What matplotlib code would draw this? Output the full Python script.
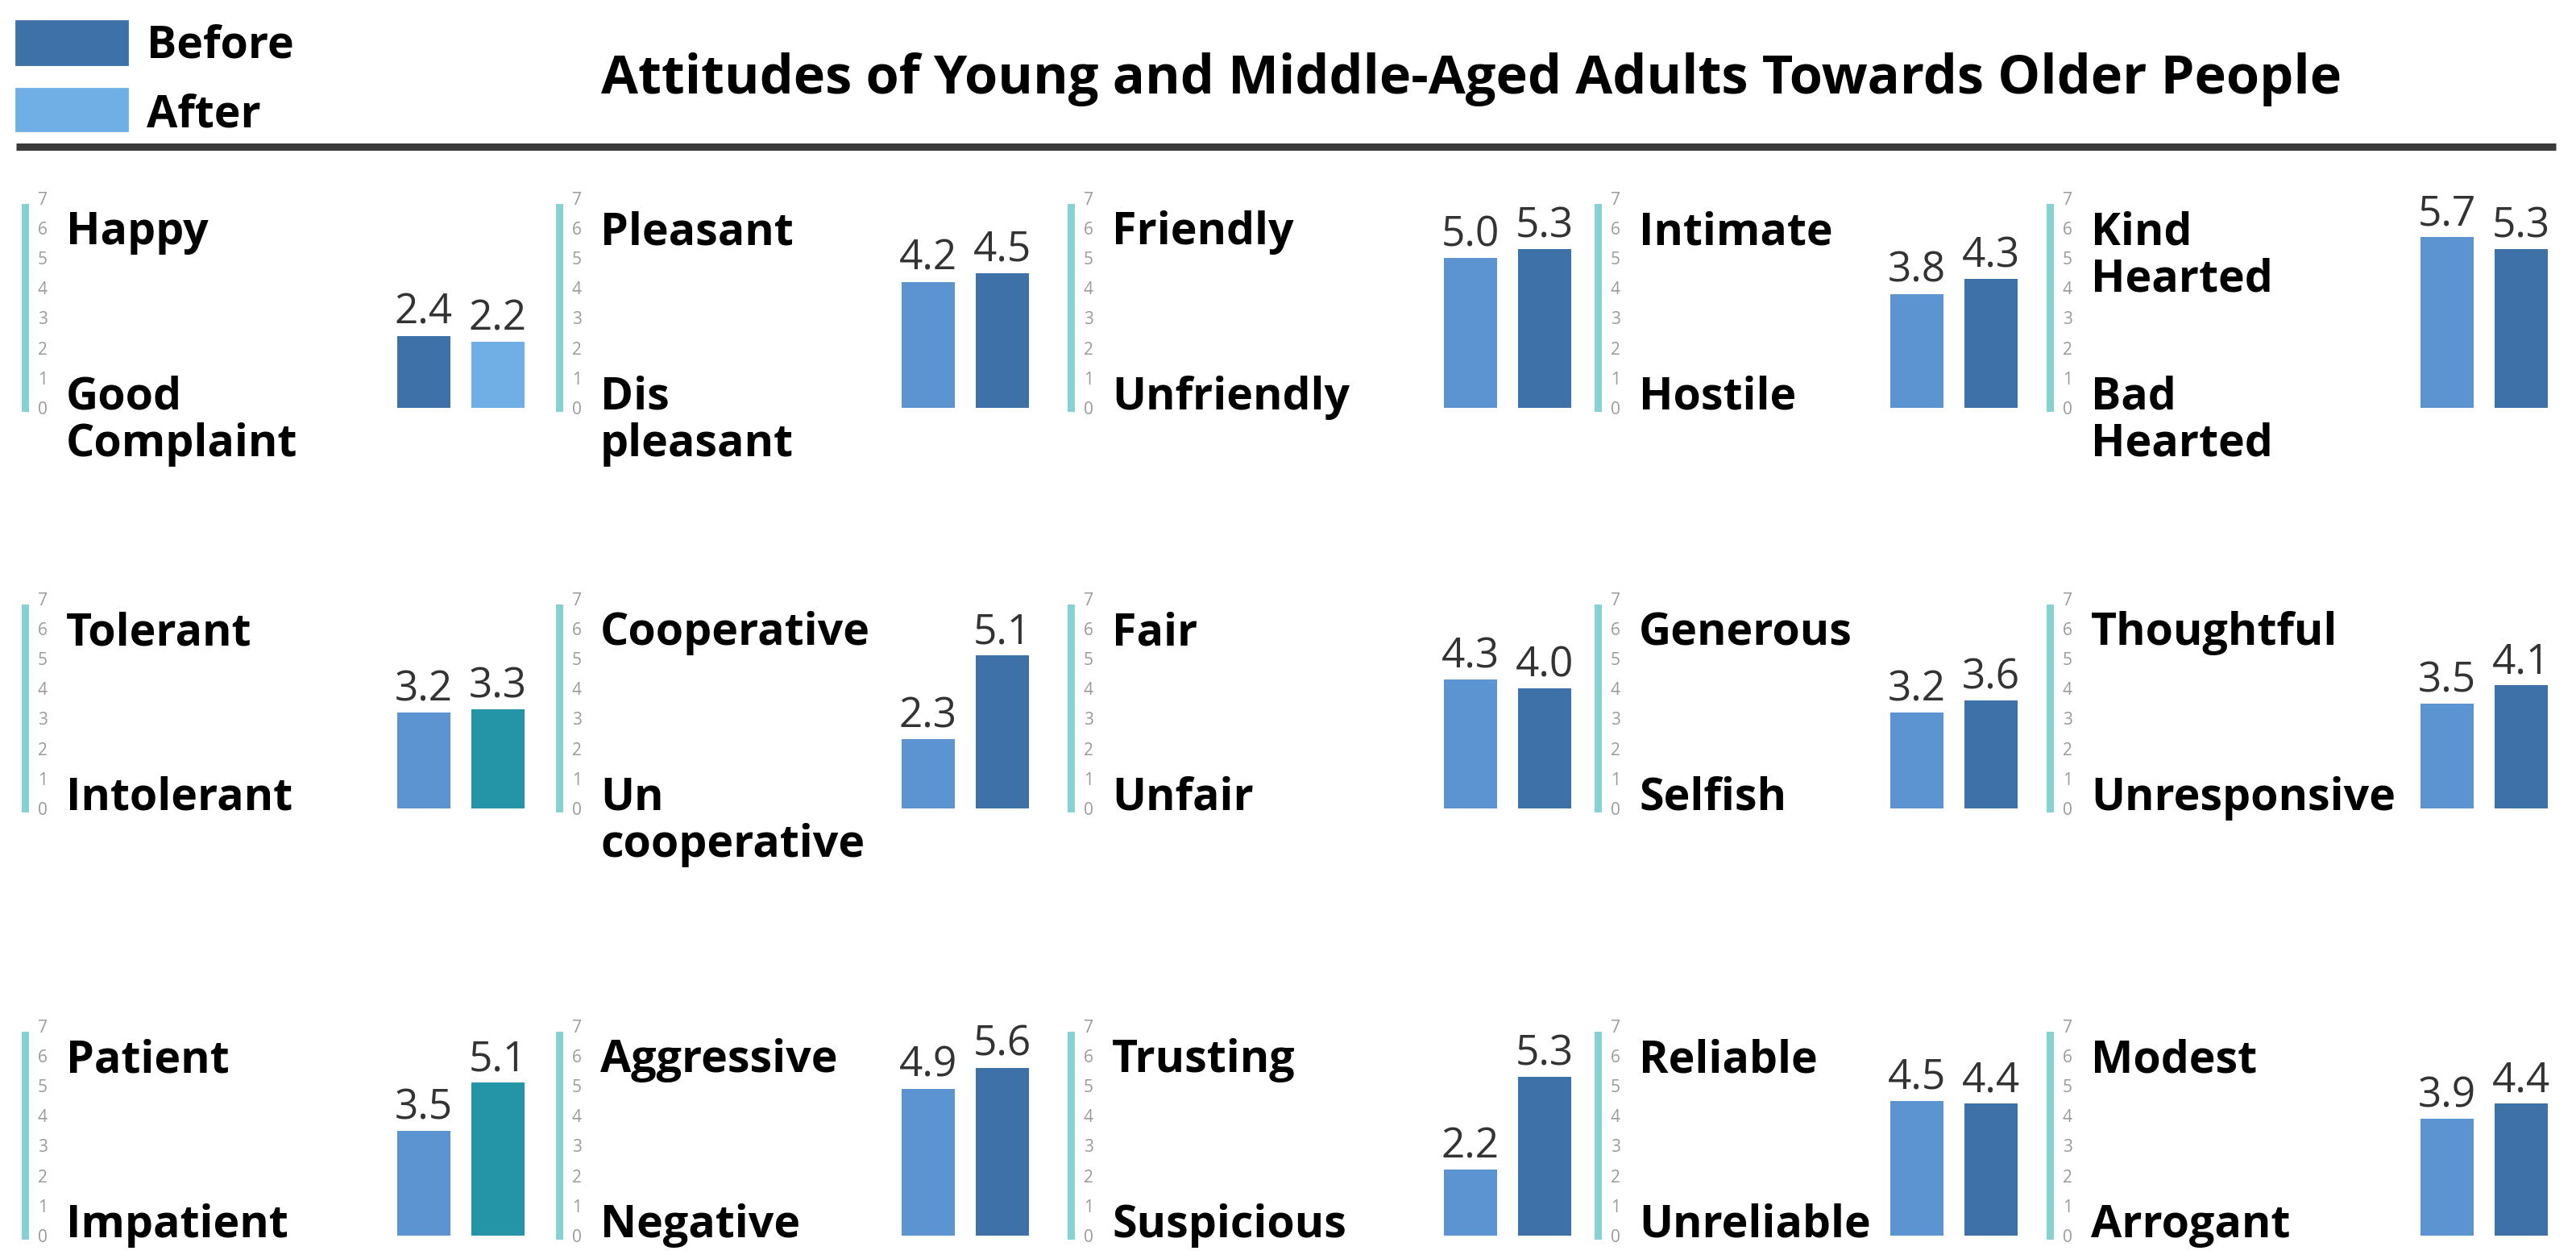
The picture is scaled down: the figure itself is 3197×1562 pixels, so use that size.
import numpy as np
import matplotlib
matplotlib.use('Agg')
import matplotlib.pyplot as plt
from matplotlib.patches import Rectangle

plt.rcParams['font.family'] = ['Open Sans', 'DejaVu Sans']

# ---------------- data ----------------
top_labels = [
    ['Happy', 'Pleasant', 'Friendly', 'Intimate', 'Kind\nHearted'],
    ['Tolerant', 'Cooperative', 'Fair', 'Generous', 'Thoughtful'],
    ['Patient', 'Aggressive', 'Trusting', 'Reliable', 'Modest'],
]
bottom_labels = [
    ['Good\nComplaint', 'Dis\npleasant', 'Unfriendly', 'Hostile', 'Bad\nHearted'],
    ['Intolerant', 'Un\ncooperative', 'Unfair', 'Selfish', 'Unresponsive'],
    ['Impatient', 'Negative', 'Suspicious', 'Unreliable', 'Arrogant'],
]
first_values = [
    [2.4, 4.2, 5.0, 3.8, 5.7],
    [3.2, 2.3, 4.3, 3.2, 3.5],
    [3.5, 4.9, 2.2, 4.5, 3.9],
]
second_values = [
    [2.2, 4.5, 5.3, 4.3, 5.3],
    [3.3, 5.1, 4.0, 3.6, 4.1],
    [5.1, 5.6, 5.3, 4.4, 4.4],
]
legend_labels = ['Before', 'After']
title = 'Attitudes of Young and Middle-Aged Adults Towards Older People'

# ---------------- style ----------------
DARK = '#3e71a7'
MEDIUM = '#5b94d1'
LIGHT = '#70afe6'
TEAL = '#2495a6'
AXIS_TEAL = '#86d2d2'
bar_colors = [
    [(DARK, LIGHT), (MEDIUM, DARK), (MEDIUM, DARK), (MEDIUM, DARK), (MEDIUM, DARK)],
    [(MEDIUM, TEAL), (MEDIUM, DARK), (MEDIUM, DARK), (MEDIUM, DARK), (MEDIUM, DARK)],
    [(MEDIUM, TEAL), (MEDIUM, DARK), (MEDIUM, DARK), (MEDIUM, DARK), (MEDIUM, DARK)],
]

W, H, DPI = 3197, 1562, 200
PT = DPI / 72.0                       # px per point

col_axis_px = [31, 694, 1329, 1983, 2544]   # teal axis line x
col_bar_px = [493, 1119, 1792, 2346, 3004]  # left edge of first bar
row_base_px = [506, 1003, 1533]             # bar baseline y
PX_PER_UNIT = 37.2
BAR_W, BAR_STEP = 66, 92
LABEL_FS = 20
VALUE_FS = 18.5

fig = plt.figure(figsize=(W / DPI, H / DPI), dpi=DPI)

# overlay in pixel coordinates for the header
ov = fig.add_axes([0, 0, 1, 1])
ov.set_xlim(0, W)
ov.set_ylim(H, 0)
ov.axis('off')

ov.add_patch(Rectangle((20, 26), 138, 54, color=DARK))
ov.add_patch(Rectangle((20, 110), 138, 52, color=LIGHT))
ov.text(182, 72, legend_labels[0], fontsize=LABEL_FS, fontweight='bold', va='baseline')
ov.text(182, 157, legend_labels[1], fontsize=LABEL_FS, fontweight='bold', va='baseline')
ov.text(1826, 116, title, fontsize=24, fontweight='bold', ha='center', va='baseline')
ov.plot([20, 3172], [182, 182], color='#3a3a3a', linewidth=9 / PT, solid_capstyle='butt')

for r in range(3):
    for c in range(5):
        L = col_axis_px[c]
        B = col_bar_px[c]
        right_px = B + BAR_STEP + BAR_W + 10
        width_px = right_px - L
        base = row_base_px[r]
        top = base - 7 * PX_PER_UNIT
        ax = fig.add_axes([L / W, 1 - base / H, width_px / W, (base - top) / H])
        ax.patch.set_alpha(0)
        x0 = -(B - L + BAR_W / 2) / BAR_STEP
        ax.set_xlim(x0, x0 + width_px / BAR_STEP)
        ax.set_ylim(0, 7)

        vals = [first_values[r][c], second_values[r][c]]
        bars = ax.bar([0, 1], vals, width=BAR_W / BAR_STEP,
                      color=bar_colors[r][c])
        ax.bar_label(bars, fmt='%.1f', padding=1, fontsize=VALUE_FS,
                     color='#333333')

        for s in ('top', 'right', 'bottom'):
            ax.spines[s].set_visible(False)
        ax.spines['left'].set_color(AXIS_TEAL)
        ax.spines['left'].set_linewidth(9 / PT)
        ax.spines['left'].set_bounds(0, 6.7)
        ax.set_xticks([])
        ax.set_yticks(range(8))
        ax.tick_params(axis='y', length=0, pad=-10, labelsize=7.5,
                       labelcolor='#9a9a9a')

        xf = 51 / width_px
        for i, line in enumerate(top_labels[r][c].split('\n')):
            ax.text(xf, 5.45 - i * 58 / PX_PER_UNIT, line,
                    transform=ax.get_yaxis_transform(), fontsize=LABEL_FS,
                    fontweight='bold', va='baseline', ha='left')
        for i, line in enumerate(bottom_labels[r][c].split('\n')):
            ax.text(xf, -0.05 - i * 58 / PX_PER_UNIT, line,
                    transform=ax.get_yaxis_transform(), fontsize=LABEL_FS,
                    fontweight='bold', va='baseline', ha='left', clip_on=False)

fig.savefig('out.png', dpi=DPI)
